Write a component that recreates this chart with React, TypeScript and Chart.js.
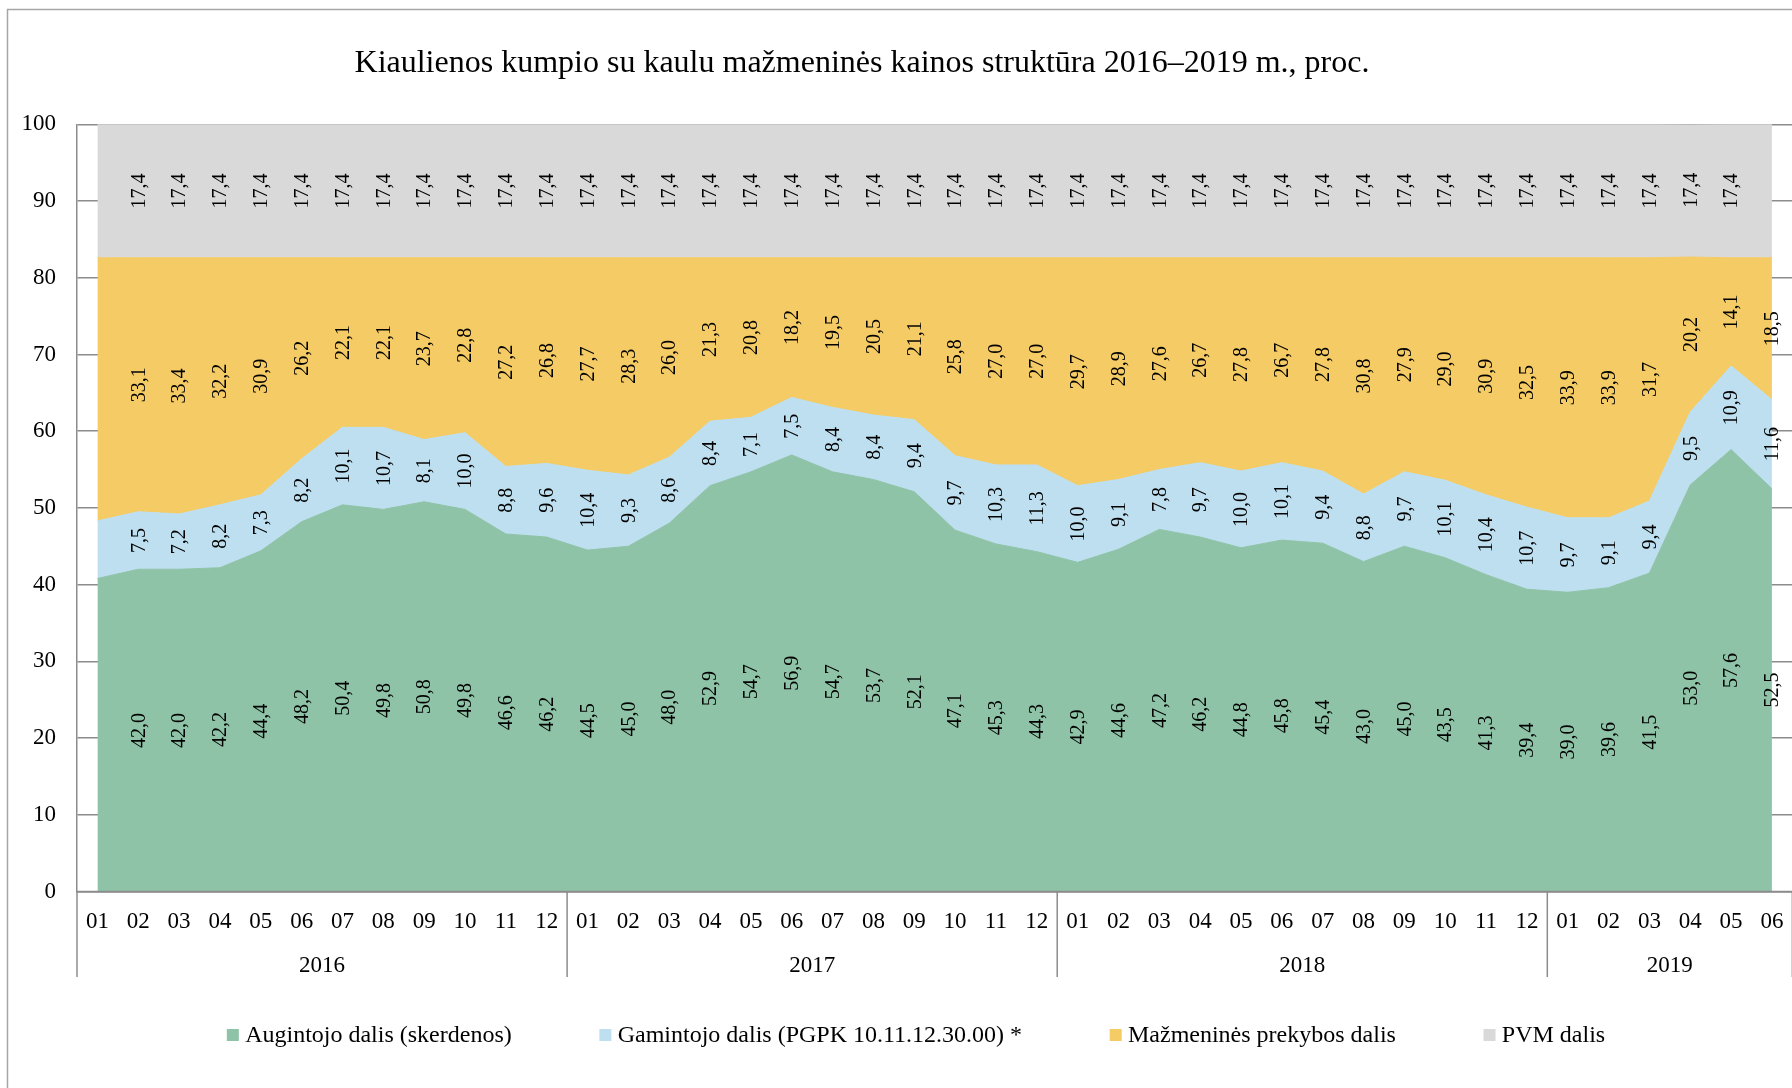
import React, { useEffect, useRef } from "react";
import { Chart, registerables } from "chart.js";

Chart.register(...registerables);

const titleText = "Kiaulienos kumpio su kaulu mažmeninės kainos struktūra 2016–2019 m., proc.";

const months = [
  "01", "02", "03", "04", "05", "06", "07", "08", "09", "10", "11", "12",
  "01", "02", "03", "04", "05", "06", "07", "08", "09", "10", "11", "12",
  "01", "02", "03", "04", "05", "06", "07", "08", "09", "10", "11", "12",
  "01", "02", "03", "04", "05", "06",
];
const years = ["2016", "2017", "2018", "2019"];
const monthsPerYear = [12, 12, 12, 6];

const augintojo = [
  40.8, 42.0, 42.0, 42.2, 44.4, 48.2, 50.4, 49.8, 50.8, 49.8, 46.6, 46.2,
  44.5, 45.0, 48.0, 52.9, 54.7, 56.9, 54.7, 53.7, 52.1, 47.1, 45.3, 44.3,
  42.9, 44.6, 47.2, 46.2, 44.8, 45.8, 45.4, 43.0, 45.0, 43.5, 41.3, 39.4,
  39.0, 39.6, 41.5, 53.0, 57.6, 52.5,
];
const gamintojo = [
  7.5, 7.5, 7.2, 8.2, 7.3, 8.2, 10.1, 10.7, 8.1, 10.0, 8.8, 9.6,
  10.4, 9.3, 8.6, 8.4, 7.1, 7.5, 8.4, 8.4, 9.4, 9.7, 10.3, 11.3,
  10.0, 9.1, 7.8, 9.7, 10.0, 10.1, 9.4, 8.8, 9.7, 10.1, 10.4, 10.7,
  9.7, 9.1, 9.4, 9.5, 10.9, 11.6,
];
const mazmenine = [
  34.3, 33.1, 33.4, 32.2, 30.9, 26.2, 22.1, 22.1, 23.7, 22.8, 27.2, 26.8,
  27.7, 28.3, 26.0, 21.3, 20.8, 18.2, 19.5, 20.5, 21.1, 25.8, 27.0, 27.0,
  29.7, 28.9, 27.6, 26.7, 27.8, 26.7, 27.8, 30.8, 27.9, 29.0, 30.9, 32.5,
  33.9, 33.9, 31.7, 20.2, 14.1, 18.5,
];
const pvm = [
  17.4, 17.4, 17.4, 17.4, 17.4, 17.4, 17.4, 17.4, 17.4, 17.4, 17.4, 17.4,
  17.4, 17.4, 17.4, 17.4, 17.4, 17.4, 17.4, 17.4, 17.4, 17.4, 17.4, 17.4,
  17.4, 17.4, 17.4, 17.4, 17.4, 17.4, 17.4, 17.4, 17.4, 17.4, 17.4, 17.4,
  17.4, 17.4, 17.4, 17.4, 17.4, 17.4,
];

const seriesNames = [
  "Augintojo dalis (skerdenos)",
  "Gamintojo dalis (PGPK 10.11.12.30.00) *",
  "Mažmeninės prekybos dalis",
  "PVM dalis",
];
const seriesColors = ["#8ec3a7", "#bddfef", "#f4cb65", "#d9d9d9"];
const yTicks = [0, 10, 20, 30, 40, 50, 60, 70, 80, 90, 100];

const FONT = '"Liberation Serif", "Times New Roman", serif';
const AXIS_GRAY = "#8c8c8c";

const fmt = (v: number) => v.toFixed(1).replace(".", ",");

const overlayPlugin = {
  id: "overlay",
  beforeDraw(chart: any) {
    const ctx = chart.ctx;
    ctx.save();
    ctx.fillStyle = "#ffffff";
    ctx.fillRect(0, 0, chart.width, chart.height);
    ctx.strokeStyle = "#a6a6a6";
    ctx.lineWidth = 1.5;
    ctx.strokeRect(7.5, 9.5, chart.width + 200, chart.height + 200);
    // title
    ctx.fillStyle = "#000";
    ctx.font = `32px ${FONT}`;
    ctx.textAlign = "center";
    ctx.textBaseline = "alphabetic";
    ctx.fillText(titleText, 862, 72.3);
    ctx.restore();
  },
  afterDatasetsDraw(chart: any) {
    const ctx = chart.ctx;
    const area = chart.chartArea;
    const xs = chart.scales.x;
    const n = months.length;
    ctx.save();
    // x axis line over the fill
    ctx.strokeStyle = AXIS_GRAY;
    ctx.lineWidth = 1.5;
    ctx.beginPath();
    ctx.moveTo(area.left, area.bottom);
    ctx.lineTo(area.right, area.bottom);
    ctx.stroke();

    // data labels
    ctx.fillStyle = "#000";
    ctx.font = `20px ${FONT}`;
    ctx.textAlign = "center";
    ctx.textBaseline = "middle";
    const metas = chart.data.datasets.map((_: any, i: number) => chart.getDatasetMeta(i));
    for (let d = 0; d < metas.length; d++) {
      const ds = chart.data.datasets[d];
      for (let i = 0; i < n; i++) {
        if (i === 0) continue;
        if (d === metas.length - 1 && i === n - 1) continue;
        const top = metas[d].data[i].y;
        const bottom = d === 0 ? area.bottom : metas[d - 1].data[i].y;
        const x = metas[d].data[i].x;
        const y = (top + bottom) / 2;
        ctx.save();
        ctx.translate(x, y);
        ctx.rotate(-Math.PI / 2);
        ctx.fillText(fmt(ds.data[i]), 0, 1);
        ctx.restore();
      }
    }

    // year group separators and labels
    const slot = (area.right - area.left) / n;
    let start = 0;
    ctx.font = `23px ${FONT}`;
    ctx.textBaseline = "alphabetic";
    ctx.strokeStyle = AXIS_GRAY;
    ctx.lineWidth = 1.5;
    for (let g = 0; g < years.length; g++) {
      const count = monthsPerYear[g];
      const left = xs.getPixelForTick(start) - slot / 2;
      const right = xs.getPixelForTick(start + count - 1) + slot / 2;
      ctx.beginPath();
      ctx.moveTo(left, area.bottom);
      ctx.lineTo(left, 977);
      ctx.stroke();
      if (g === years.length - 1) {
        ctx.beginPath();
        ctx.moveTo(right, area.bottom);
        ctx.lineTo(right, 977);
        ctx.stroke();
      }
      ctx.fillText(years[g], (left + right) / 2, 971.5);
      start += count;
    }

    // legend
    ctx.font = `24px ${FONT}`;
    ctx.textAlign = "left";
    const box = 12;
    const boxGap = 6.3;
    const itemGap = 87.6;
    const widths = seriesNames.map((s) => ctx.measureText(s).width);
    const total = widths.reduce((a, w) => a + box + boxGap + w, 0) + itemGap * (seriesNames.length - 1);
    let lx = 916 - total / 2;
    for (let k = 0; k < seriesNames.length; k++) {
      ctx.fillStyle = seriesColors[k];
      ctx.fillRect(lx, 1029, box, box);
      ctx.fillStyle = "#000";
      ctx.fillText(seriesNames[k], lx + box + boxGap, 1041.5);
      lx += box + boxGap + widths[k] + itemGap;
    }
    ctx.restore();
  },
};

export default function App() {
  const canvasRef = useRef<HTMLCanvasElement | null>(null);

  useEffect(() => {
    const canvas = canvasRef.current;
    if (!canvas) return;
    const seriesData = [augintojo, gamintojo, mazmenine, pvm];
    const chart = new Chart(canvas, {
      type: "line",
      data: {
        labels: months,
        datasets: seriesData.map((arr, i) => ({
          label: seriesNames[i],
          data: arr,
          backgroundColor: seriesColors[i],
          borderColor: seriesColors[i],
          borderWidth: 1,
          pointRadius: 0,
          pointHoverRadius: 0,
          tension: 0,
          fill: i === 0 ? "origin" : "-1",
        })),
      },
      options: {
        responsive: false,
        animation: false,
        devicePixelRatio: 1,
        events: [],
        layout: { padding: { top: 124.3, right: 5, left: 0, bottom: 0 } },
        plugins: {
          legend: { display: false },
          title: { display: false },
          tooltip: { enabled: false },
        },
        scales: {
          x: {
            type: "category",
            offset: true,
            grid: { display: false, drawTicks: false },
            border: { display: true, color: AXIS_GRAY, width: 1.5 },
            ticks: {
              autoSkip: false,
              maxRotation: 0,
              minRotation: 0,
              color: "#000",
              padding: 16.5,
              font: { family: FONT, size: 23 },
            },
            afterFit: (scale: any) => {
              scale.height = 1088 - 891.5;
            },
          },
          y: {
            stacked: true,
            min: 0,
            max: 100,
            afterBuildTicks: (scale: any) => {
              scale.ticks = yTicks.map((v) => ({ value: v }));
            },
            grid: { color: AXIS_GRAY, lineWidth: 1.5, drawTicks: false },
            border: { display: true, color: AXIS_GRAY, width: 1.5 },
            ticks: {
              color: "#000",
              padding: 21,
              font: { family: FONT, size: 23 },
            },
            afterFit: (scale: any) => {
              scale.width = 77;
            },
          },
        },
      },
      plugins: [overlayPlugin],
    });
    return () => chart.destroy();
  }, []);

  return (
    <div
      style={{
        position: "fixed",
        left: 0,
        top: 0,
        width: 1792,
        height: 1088,
        overflow: "hidden",
        background: "#fff",
      }}
    >
      <canvas
        ref={canvasRef}
        width={1800}
        height={1088}
        style={{ display: "block", width: 1800, height: 1088 }}
      />
    </div>
  );
}
